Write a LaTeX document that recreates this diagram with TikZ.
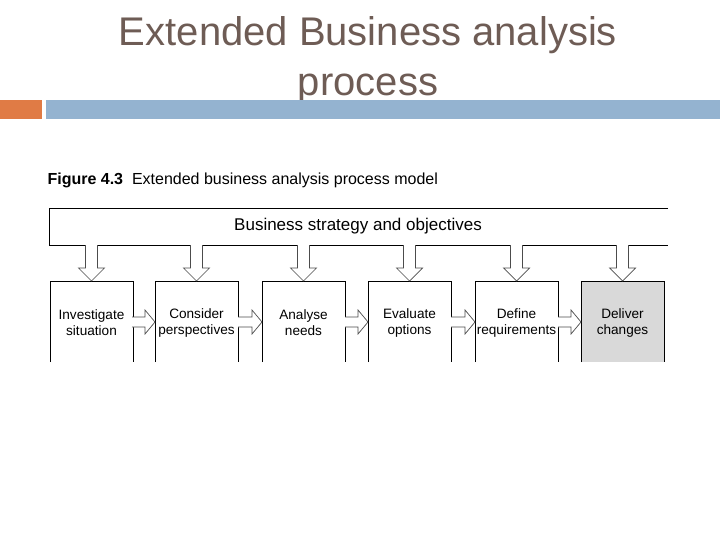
\documentclass[tikz,border=0pt]{standalone}
\usepackage{fontspec}
\setmainfont{Liberation Sans}
\definecolor{titlec}{HTML}{6E5C55}
\definecolor{barblue}{HTML}{94B3D0}
\definecolor{barorange}{HTML}{E07B45}
\begin{document}
\begin{tikzpicture}[x=1pt,y=-1pt,
  proc/.style={font=\fontsize{13.6}{16}\selectfont,align=center,inner sep=0pt},
  arr/.style={draw=black!70,fill=white,line width=0.7pt},
  edge/.style={draw=black,line width=0.8pt}]
\useasboundingbox (0,0) rectangle (720,540);
\node[font=\fontsize{40}{50}\selectfont,text=titlec,align=center] (title) at (368,60) {Extended Business analysis\\process};
\fill[barorange] (0,100) rectangle (42,119);
\fill[barblue] (46,100) rectangle (720,119);
\node[anchor=west,font=\fontsize{16}{18}\selectfont] (cap) at (44,180) {\textbf{Figure 4.3}\ \ Extended business analysis process model};
\draw[edge] (668,208) -- (49,208) -- (49,245) -- (668,245);
\node[font=\fontsize{17}{19}\selectfont] (bs) at (358,226) {Business strategy and objectives};
\foreach \n/\x/\t in {1/50/{Investigate\\situation},2/155/{Consider\\perspectives},3/262/{Analyse\\needs},4/368/{Evaluate\\options},5/475/{Define\\requirements},6/581/{Deliver\\changes}}{
  \ifnum\n=6 \fill[gray!30] (\x,281) rectangle ++(83,81); \fi
  \draw[edge] (\x,362) -- (\x,281) -- ++(83,0) -- ++(0,81);
  \node[proc] (t\n) at (\x+41.5,323) {\t};
  \draw[arr] (\x+35.5,245) -- ++(0,23) -- ++(-7,0) -- (\x+41.5,281) -- (\x+54.5,268) -- ++(-7,0) -- ++(0,-23);
}
\foreach \x/\y in {132/155,238/262,345/368,451/475,558/581}{
  \draw[arr] (\x,317) -- (\y-10,317) -- (\y-10,310) -- (\y,322) -- (\y-10,334) -- (\y-10,327) -- (\x,327);
}
\end{tikzpicture}
\end{document}
